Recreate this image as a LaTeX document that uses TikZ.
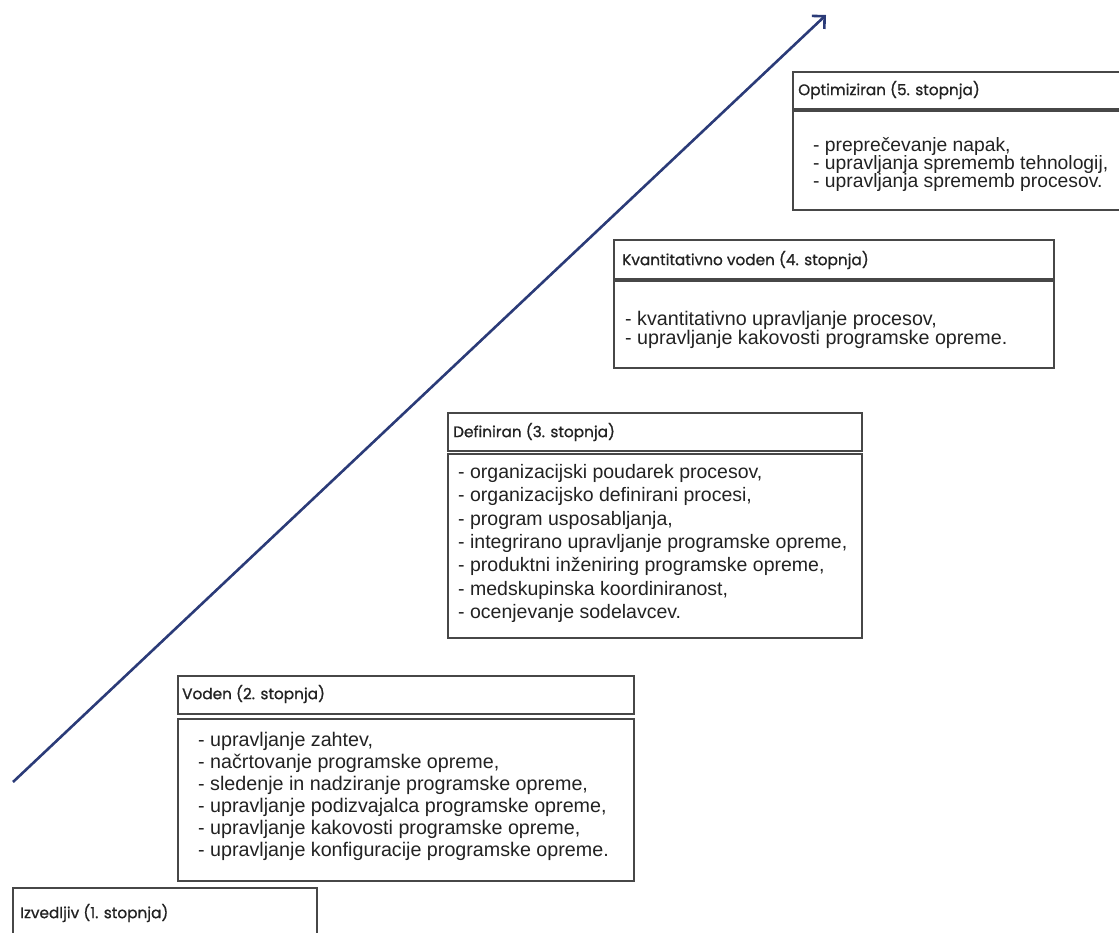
\documentclass[tikz,border=0pt]{standalone}
\usepackage{fontspec}
\usetikzlibrary{arrows.meta}
\newfontfamily\bodyfont{Liberation Sans}
\newfontfamily\headfont[FakeBold=0.9]{Poppins}
\definecolor{arrowblue}{HTML}{2B3B78}
\definecolor{framegray}{HTML}{474747}
\definecolor{inkgray}{HTML}{222222}
\tikzset{
  frame/.style={draw=framegray, line width=1.5pt, fill=white, inner sep=0pt, anchor=north west},
  headtext/.style={anchor=west, inner sep=0pt, text=inkgray, font=\headfont\fontsize{15.3}{17}\selectfont},
  bodytext/.style={anchor=north west, inner sep=0pt, align=left, text=inkgray},
  rise/.style={draw=arrowblue, line width=2.6pt, -{Straight Barb[length=9pt,width=18pt]}}
}
\newcommand{\bodysize}[2]{\bodyfont\fontsize{#1}{#2}\selectfont}
\begin{document}
\begin{tikzpicture}[x=1pt,y=-1pt]
\useasboundingbox (0,0) rectangle (1119,932);
\clip (0,0) rectangle (1119,932);

% rising arrow through the five levels
\coordinate (low) at (13,782);
\coordinate (high) at (826,15);
\draw[rise] (low) -- (high);

% level 5
\node[frame, minimum width=340pt, minimum height=37pt] (h5) at (792,71) {};
\node[frame, minimum width=340pt, minimum height=99pt] (b5) at (792,110) {};
\node[headtext] (t5) at (798,90) {Optimiziran (5. stopnja)};
\node[bodytext, font=\bodysize{19.3}{18.2}] (l5) at (813,137) {- preprečevanje napak,\\- upravljanja sprememb tehnologij,\\- upravljanja sprememb procesov.};

% level 4
\node[frame, minimum width=440pt, minimum height=39pt] (h4) at (613,239) {};
\node[frame, minimum width=440pt, minimum height=87pt] (b4) at (613,280) {};
\node[headtext] (t4) at (622,260) {Kvantitativno voden (4. stopnja)};
\node[bodytext, font=\bodysize{19.7}{19}] (l4) at (625,311) {- kvantitativno upravljanje procesov,\\- upravljanje kakovosti programske opreme.};

% level 3
\node[frame, minimum width=414pt, minimum height=38pt] (h3) at (447,412) {};
\node[frame, minimum width=414pt, minimum height=184pt] (b3) at (447,453) {};
\node[headtext] (t3) at (453,432) {Definiran (3. stopnja)};
\node[bodytext, font=\bodysize{19.5}{23.4}] (l3) at (458,464) {- organizacijski poudarek procesov,\\- organizacijsko definirani procesi,\\- program usposabljanja,\\- integrirano upravljanje programske opreme,\\- produktni inženiring programske opreme,\\- medskupinska koordiniranost,\\- ocenjevanje sodelavcev.};

% level 2
\node[frame, minimum width=456pt, minimum height=38pt] (h2) at (177,675) {};
\node[frame, minimum width=456pt, minimum height=162pt] (b2) at (177,718) {};
\node[headtext] (t2) at (182,694) {Voden (2. stopnja)};
\node[bodytext, font=\bodysize{19.7}{22}] (l2) at (198,732) {- upravljanje zahtev,\\- načrtovanje programske opreme,\\- sledenje in nadziranje programske opreme,\\- upravljanje podizvajalca programske opreme,\\- upravljanje kakovosti programske opreme,\\- upravljanje konfiguracije programske opreme.};

% level 1
\node[frame, minimum width=304pt, minimum height=60pt] (h1) at (12,887) {};
\node[headtext] (t1) at (20,913) {Izvedljiv (1. stopnja)};
\end{tikzpicture}
\end{document}
